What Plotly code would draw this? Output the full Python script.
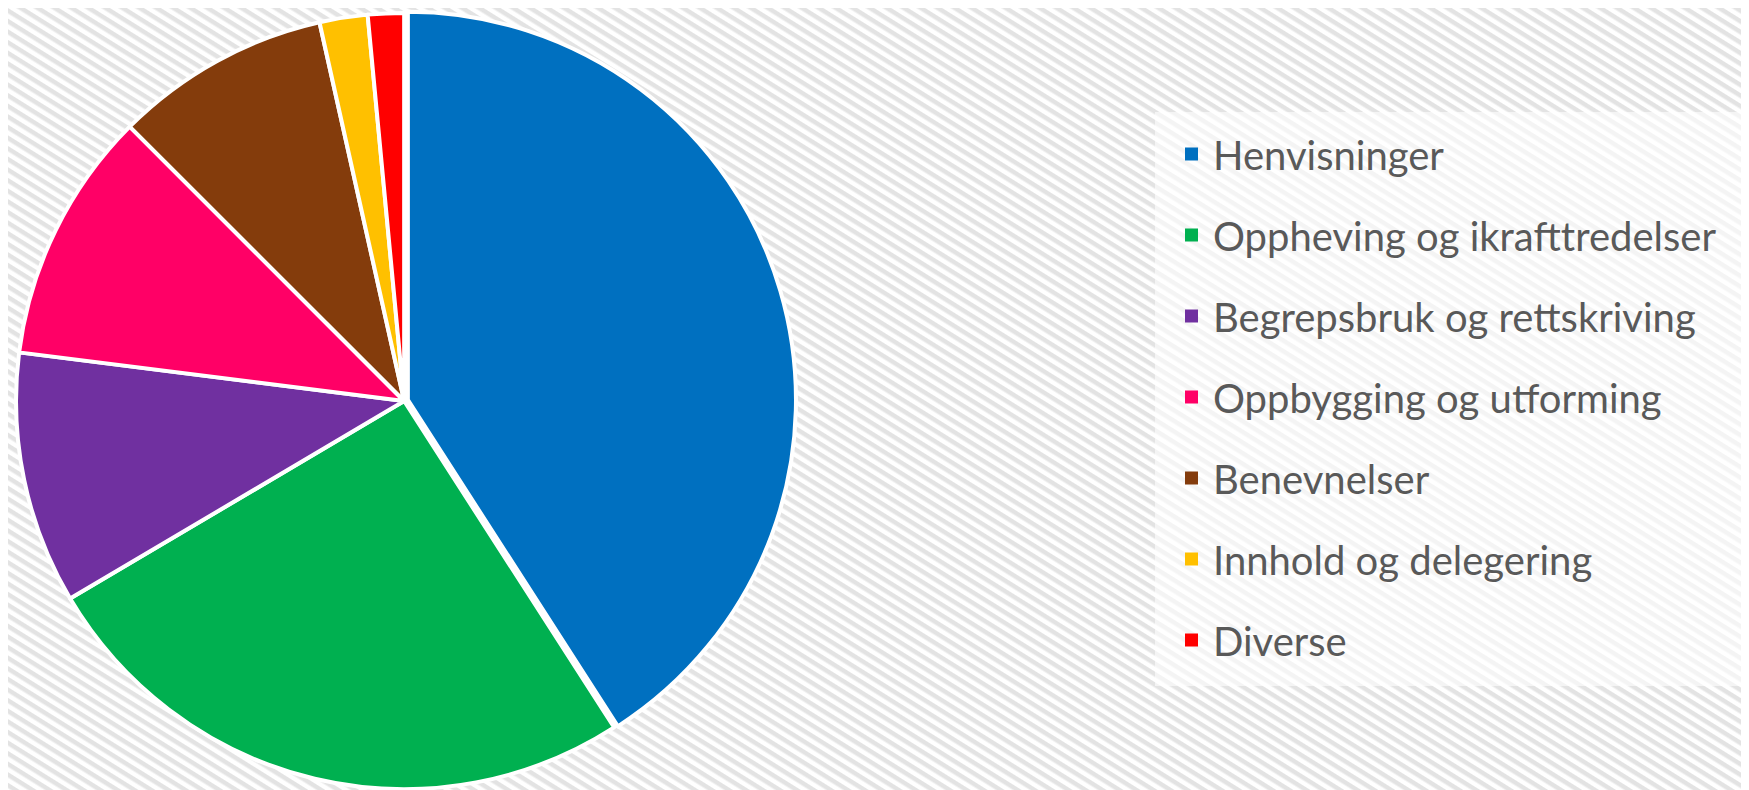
import base64
import plotly.graph_objects as go

# data
categories = ["Henvisninger", "Oppheving og ikrafttredelser", "Begrepsbruk og rettskriving",
              "Oppbygging og utforming", "Benevnelser", "Innhold og delegering", "Diverse"]
shares = [40.9, 25.6, 10.5, 10.5, 9.0, 2.0, 1.5]
colors = ["#0070C0", "#00B050", "#7030A0", "#FF0066", "#843C0C", "#FFC000", "#FF0000"]

W, H = 1749, 790

# diagonal hatch background as an svg pattern
svg = f'''<svg xmlns="http://www.w3.org/2000/svg" width="{W}" height="{H}">
<defs><pattern id="p" width="9" height="9" patternUnits="userSpaceOnUse" patternTransform="rotate(32)">
<rect width="9" height="9" fill="#ffffff"/><rect width="9" height="4.5" fill="#e3e3e3"/></pattern></defs>
<rect width="{W}" height="{H}" fill="url(#p)"/></svg>'''
bg_src = "data:image/svg+xml;base64," + base64.b64encode(svg.encode()).decode()

fig = go.Figure()
fig.add_trace(go.Pie(labels=categories, values=shares,
                     sort=False, direction="clockwise", rotation=0,
                     marker=dict(colors=colors, line=dict(color="white", width=4)),
                     pull=[0.01] + [0] * (len(shares) - 1),
                     textinfo="none", showlegend=False,
                     domain=dict(x=[0.002, 0.451], y=[0.0063, 0.9987])))

# legend entries, one group each so the spacing can be set
for i, (name, c) in enumerate(zip(categories, colors)):
    fig.add_trace(go.Scatter(x=[None], y=[None], mode="markers", name=name,
                             legendgroup=str(i),
                             marker=dict(symbol="square", size=13, color=c)))

fig.update_layout(
    width=W, height=H,
    margin=dict(l=0, r=0, t=0, b=0),
    paper_bgcolor="white", plot_bgcolor="rgba(0,0,0,0)",
    xaxis=dict(visible=False), yaxis=dict(visible=False),
    images=[dict(source=bg_src, xref="paper", yref="paper", x=0, y=1, sizex=1, sizey=1,
                 xanchor="left", yanchor="top", sizing="stretch", layer="below")],
    shapes=[dict(type="rect", xref="paper", yref="paper", x0=1147 / W, x1=1, y0=1 - 678 / H, y1=1 - 104 / H,
                 fillcolor="rgba(255,255,255,0.6)", line=dict(width=0), layer="below")],
    legend=dict(x=1162 / W, y=1 - 113.5 / H, xanchor="left", yanchor="top",
                bgcolor="rgba(0,0,0,0)", tracegroupgap=26, itemwidth=33,
                font=dict(family="Lato", size=40, color="#595959")),
)

fig.write_html("out.html")
